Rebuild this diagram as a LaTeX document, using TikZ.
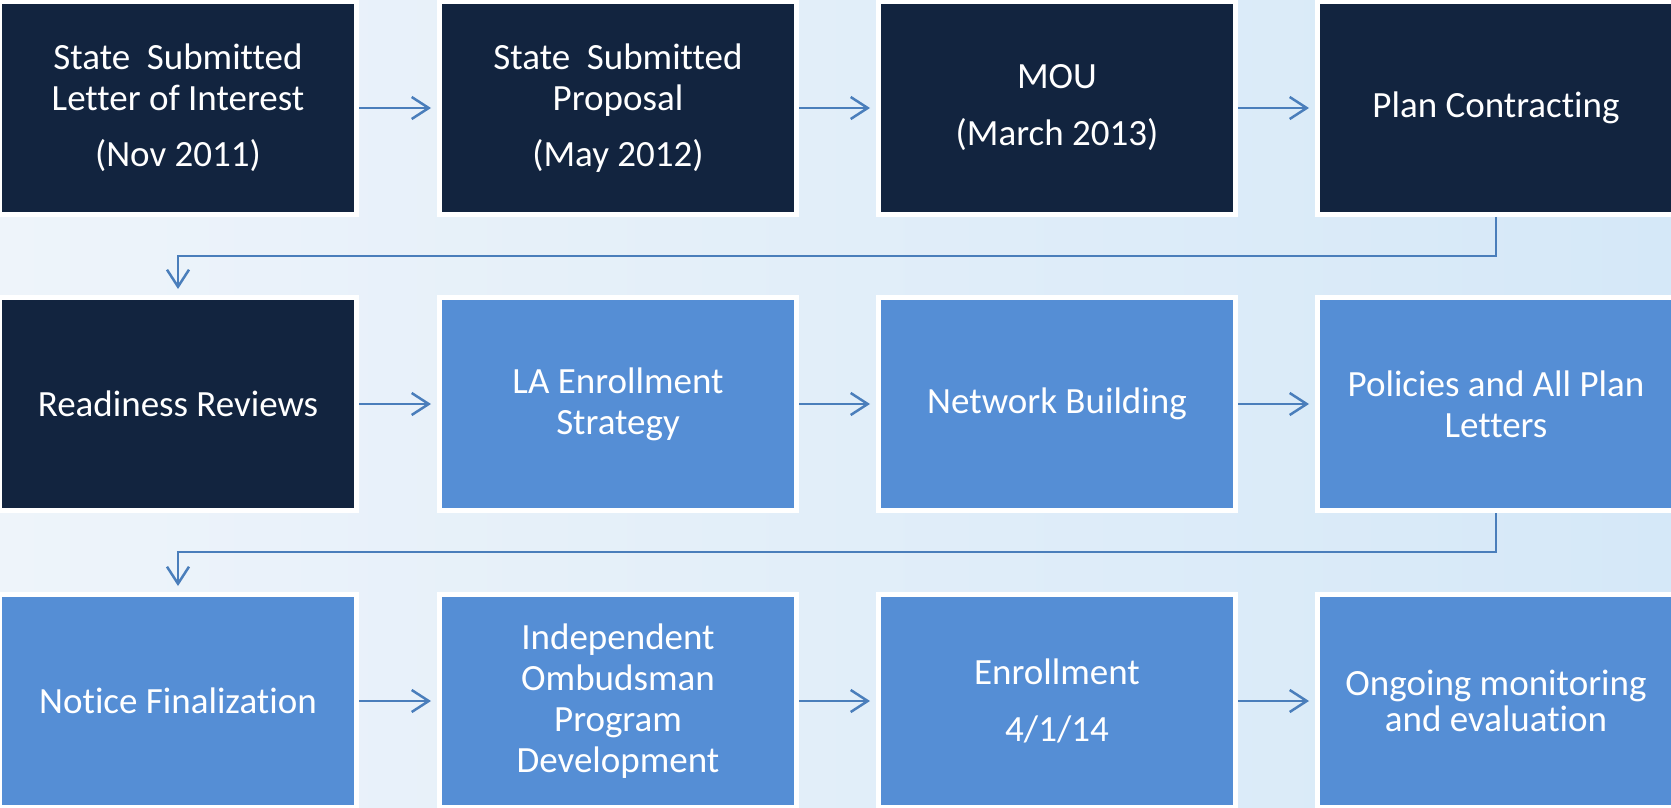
\documentclass[tikz,border=0pt]{standalone}
\usepackage{fontspec}
\setmainfont{Carlito}[Ligatures=CommonOff]
\usetikzlibrary{arrows.meta}
\definecolor{navy}{HTML}{12243F}
\definecolor{steel}{HTML}{558ED5}
\definecolor{wire}{HTML}{4A7EBB}
\definecolor{paleleft}{HTML}{EEF4FA}
\definecolor{paleright}{HTML}{D5E8F8}

\begin{document}
\begin{tikzpicture}[x=1pt, y=-1pt,
    phase/.style={draw=white, line width=5pt, minimum width=357pt, minimum height=213pt,
      inner sep=0pt, text=white, align=center, font=\fontsize{37}{41}\selectfont},
    done/.style={phase, fill=navy},
    todo/.style={phase, fill=steel},
    flow/.style={wire, line width=2.5pt, -{Straight Barb[length=17pt, width=22pt]}, shorten >=6pt}]
    \shade[left color=paleleft, right color=paleright] (0,0) rectangle (1671,808);
    \useasboundingbox (0,0) rectangle (1671,808);

    % first row
    \node[done] (letter) at (178, 108) {State\ \ Submitted\\Letter of Interest\\[15pt](Nov 2011)};
    \node[done] (proposal) at (618, 108) {State\ \ Submitted\\Proposal\\[15pt](May 2012)};
    \node[done] (mou) at (1057, 108) {MOU\\[16pt](March 2013)};
    \node[done] (contract) at (1496, 108) {Plan Contracting};

    % second row
    \node[done] (readiness) at (178, 404) {Readiness Reviews};
    \node[todo] (strategy) at (618, 404) {LA Enrollment\\Strategy};
    \node[todo] (network) at (1057, 404) {Network Building};
    \node[todo] (policies) at (1496, 404) {Policies and All Plan\\Letters};

    % third row
    \node[todo] (notice) at (178, 701) {Notice Finalization};
    \node[todo] (ombuds) at (618, 701) {Independent\\Ombudsman\\Program\\Development};
    \node[todo] (enroll) at (1057, 701) {Enrollment\\[16pt]4/1/14};
    \node[todo] (monitor) at (1496, 701) {Ongoing monitoring\\[-5pt]and evaluation};

    \draw[flow] (letter) -- (proposal);
    \draw[flow] (proposal) -- (mou);
    \draw[flow] (mou) -- (contract);
    \draw[flow] (contract.south) -- ++(0, 39) -| (readiness.north);

    \draw[flow] (readiness) -- (strategy);
    \draw[flow] (strategy) -- (network);
    \draw[flow] (network) -- (policies);
    \draw[flow] (policies.south) -- ++(0, 39) -| (notice.north);

    \draw[flow] (notice) -- (ombuds);
    \draw[flow] (ombuds) -- (enroll);
    \draw[flow] (enroll) -- (monitor);
\end{tikzpicture}
\end{document}
